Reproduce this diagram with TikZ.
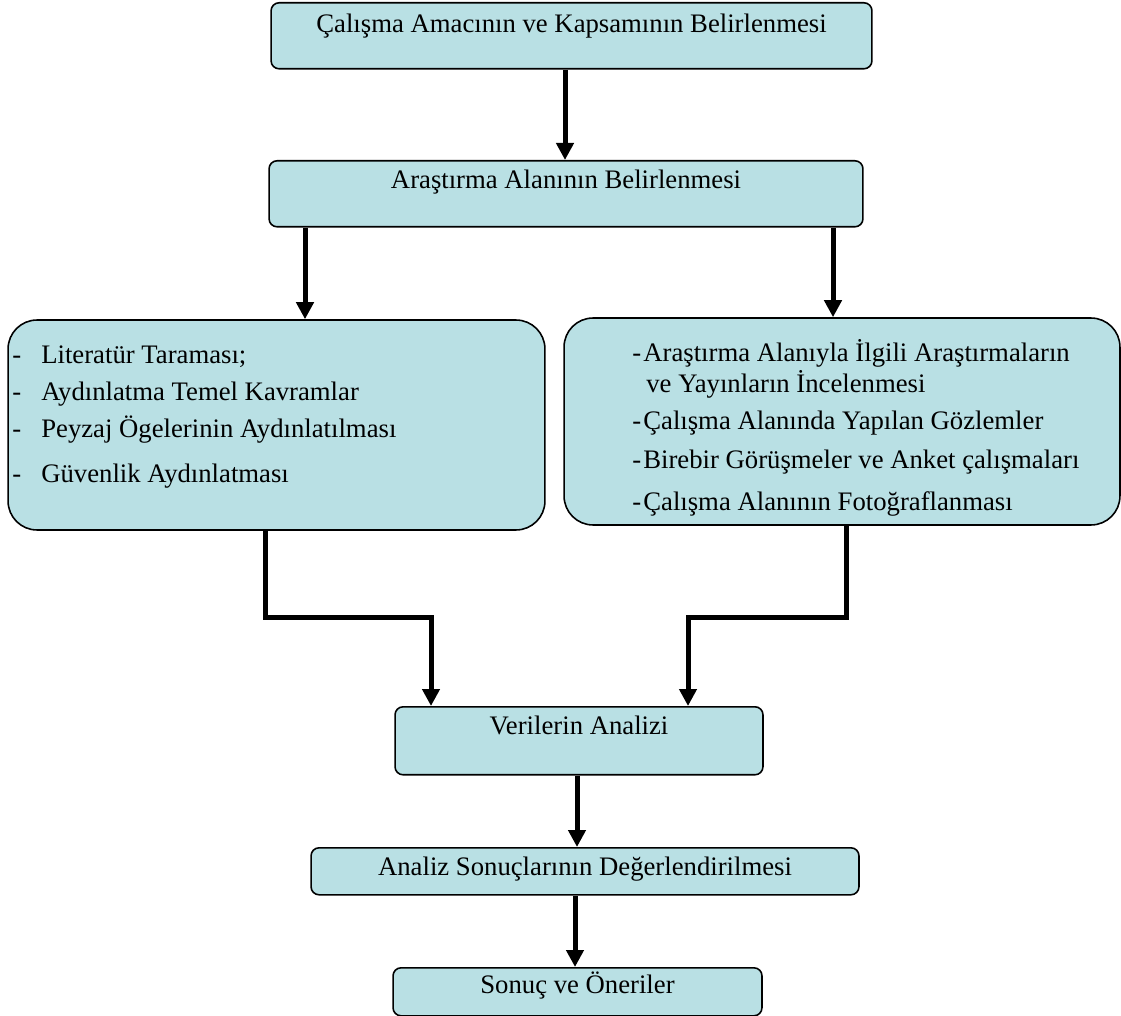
\documentclass[tikz,border=0pt]{standalone}
\usepackage{fontspec}
\setmainfont{Liberation Serif}
\usetikzlibrary{arrows.meta}
\definecolor{boxfill}{RGB}{185,224,228}
\tikzset{
  stage/.style={draw, line width=0.9pt, fill=boxfill, rounded corners=0.16cm, inner sep=0pt, anchor=north},
  panel/.style={draw, line width=0.9pt, fill=boxfill, rounded corners=0.58cm, inner sep=0pt},
  item/.style={anchor=base west, inner sep=0pt},
  flow/.style={->, line width=0.1cm},
  >={Triangle[length=0.34cm,width=0.34cm]}
}

\begin{document}
\begin{tikzpicture}[x=0.02cm, y=-0.02cm, font=\fontsize{15.2pt}{18pt}\selectfont]
  \useasboundingbox (0,0) rectangle (1121,1016);

  \node[stage, minimum width=12.02cm, text height=0.6cm, text depth=0.72cm] (aim) at (571.5,2) {Çalışma Amacının ve Kapsamının Belirlenmesi};
  \node[stage, minimum width=11.88cm, text height=0.56cm, text depth=0.76cm] (area) at (566,160) {Araştırma Alanının Belirlenmesi};

  % two work packages
  \node[panel, minimum width=10.74cm, minimum height=4.2cm] (lbox) at (276.5,425) {};
  \node[panel, minimum width=11.12cm, minimum height=4.14cm] (rbox) at (842,421.5) {};

  \node[item] (l1) at (12,363) {\makebox[0.58cm][l]{-}Literatür Taraması;};
  \node[item] (l2) at (12,400) {\makebox[0.58cm][l]{-}Aydınlatma Temel Kavramlar};
  \node[item] (l3) at (12,437) {\makebox[0.58cm][l]{-}Peyzaj Ögelerinin Aydınlatılması};
  \node[item] (l4) at (12,482) {\makebox[0.58cm][l]{-}Güvenlik Aydınlatması};

  \node[item] (r1) at (632,361) {\makebox[0.22cm][l]{-}Araştırma Alanıyla İlgili Araştırmaların};
  \node[item] (r2) at (646,393) {ve Yayınların İncelenmesi};
  \node[item] (r3) at (632,429) {\makebox[0.22cm][l]{-}Çalışma Alanında Yapılan Gözlemler};
  \node[item] (r4) at (632,468) {\makebox[0.22cm][l]{-}Birebir Görüşmeler ve Anket çalışmaları};
  \node[item] (r5) at (632,510) {\makebox[0.22cm][l]{-}Çalışma Alanının Fotoğraflanması};

  \node[stage, minimum width=7.36cm, text height=0.56cm, text depth=0.8cm] (verif) at (579,706) {Verilerin Analizi};
  \node[stage, minimum width=10.96cm, text height=0.56cm, text depth=0.38cm] (result) at (585,847) {Analiz Sonuçlarının Değerlendirilmesi};
  \node[stage, minimum width=7.38cm, text height=0.52cm, text depth=0.44cm] (final) at (577.5,967) {Sonuç ve Öneriler};

  % arrows
  \draw[flow] (aim.south -| 565,0) -- (565,0 |- area.north);
  \draw[flow] (area.south -| 305,0) -- (305,0 |- lbox.north);
  \draw[flow] (area.south -| 833,0) -- (833,0 |- rbox.north);
  \draw[flow] (lbox.south -| 265,0) |- (431,617) -- (431,0 |- verif.north);
  \draw[flow] (rbox.south -| 846,0) |- (688,617) -- (688,0 |- verif.north);
  \draw[flow] (verif.south -| 577,0) -- (577,0 |- result.north);
  \draw[flow] (result.south -| 575,0) -- (575,0 |- final.north);
\end{tikzpicture}
\end{document}
